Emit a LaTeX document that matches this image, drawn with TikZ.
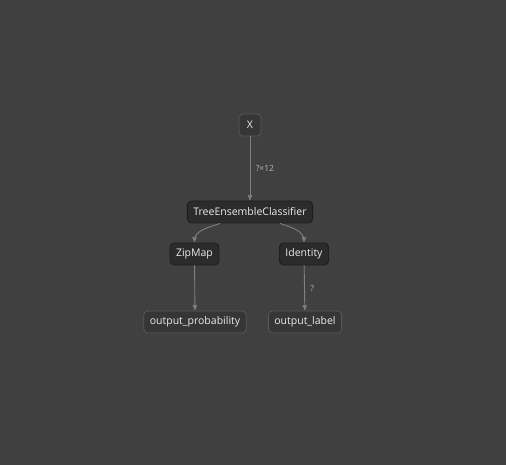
\documentclass[tikz,border=0pt]{standalone}
\usepackage{fontspec}
\setmainfont{Open Sans}
\usepackage{tikz}
\usetikzlibrary{arrows}
\usetikzlibrary{positioning,calc}
\definecolor{bgdark}{RGB}{64,64,64}
\definecolor{opfill}{RGB}{43,43,43}
\definecolor{iofill}{RGB}{54,54,54}
\definecolor{nodeline}{RGB}{30,30,30}
\definecolor{iline}{RGB}{88,88,88}
\definecolor{textgrey}{RGB}{235,235,235}
\definecolor{edgegrey}{RGB}{128,128,128}
\definecolor{labelgrey}{RGB}{180,180,180}
\tikzset{
	every node/.style={font=\fontsize{10.5}{12}\selectfont,text=textgrey}
}
\tikzset{
	>=stealth',x=1pt,y=1pt,
	op node/.style={rectangle,rounded corners=4pt,fill=opfill,draw=nodeline,line width=0.8pt,minimum height=22pt,inner xsep=6pt},
	io node/.style={rectangle,rounded corners=4pt,fill=iofill,draw=iline,line width=0.8pt,minimum height=22pt,inner xsep=6pt},
	flow/.style={->,draw=edgegrey,line width=0.9pt,shorten >=0.5pt},
	dim label/.style={font=\fontsize{8.5}{10}\selectfont,text=labelgrey}
}
\begin{document}
\begin{tikzpicture}
      \fill[bgdark] (0,0) rectangle (506,-465);
      \useasboundingbox (0,0) rectangle (506,-465);
      \node[io node,minimum width=22pt,inner xsep=2pt] (X) at (250,-125) {X};
      \node[op node] (TEC) at (250,-212) {TreeEnsembleClassifier};
      \node[op node] (ZM) at (194.5,-254) {ZipMap};
      \node[op node] (ID) at (304,-254) {Identity};
      \node[io node] (OP) at (195,-322) {output\_probability};
      \node[io node] (OL) at (305,-322) {output\_label};
      \coordinate (tl) at ($(TEC.south)+(-30,0)$);
      \coordinate (tr) at ($(TEC.south)+(30,0)$);
      \draw[flow] (X) -- node[dim label,right=2pt] {?{\texttimes}12} (TEC);
      \draw[flow] (tl) to[out=-160,in=90] (ZM.north);
      \draw[flow] (tr) to[out=-20,in=90] (ID.north);
      \draw[flow] (ZM) -- (OP);
      \draw[flow] (ID) -- node[dim label,right=2pt] {?} (OL);
    \end{tikzpicture}
\end{document}
